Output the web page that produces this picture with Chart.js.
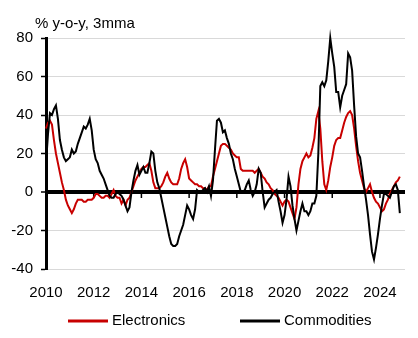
<!DOCTYPE html>
<html>
<head>
<meta charset="utf-8">
<script src="https://cdn.jsdelivr.net/npm/chart.js@4.4.1/dist/chart.umd.min.js"></script>
<style>
  html, body { margin: 0; padding: 0; background: #fff; }
  #wrap { width: 418px; height: 338px; }
</style>
</head>
<body>
<div id="wrap"><canvas id="chart" width="418" height="338"></canvas></div>
<script>
// Monthly series, Jan 2010 onwards (% y-o-y, 3-month moving average)
const startYear = 2010;
const unitLabel = '% y-o-y, 3mma';
const seriesNames = ['Electronics', 'Commodities'];

const electronics = [
  33, 36, 37, 35, 27, 20, 15, 10, 5, 1, -4, -7,          // 2010
  -9, -11, -9, -6, -4, -4, -4, -5, -5, -4, -4, -4,       // 2011
  -3, -1, -1, -2, -3, -3, -2, -2, -3, -1, 1, -2,         // 2012
  -3, -3, -6, -4, -7, -4, -3, 0, 3, 6, 8, 10,            // 2013
  12, 13, 13, 14, 15, 11, 5, 2, 2, 2, 3, 5,              // 2014
  8, 10, 7, 5, 4, 4, 4, 7, 12, 15, 17, 13,               // 2015
  7, 6, 5, 4, 4, 3, 3, 2, 2, 1, 3, 3,                    // 2016
  8, 12, 16, 20, 24, 25, 25, 24, 23, 22, 20, 19,         // 2017
  18, 18, 12, 11, 11, 11, 11, 11, 11, 10, 11, 12,        // 2018
  10, 8, 7, 5, 4, 2, 1, -1, -2, -3, -5, -7,              // 2019
  -5, -4, -5, -8, -11, -14, -8, 4, 12, 16, 18, 20,       // 2020
  18, 19, 23, 28, 38, 42, 33, 16, 4, 1, 6, 13,           // 2021
  18, 24, 27, 28, 28, 32, 36, 39, 41, 42, 40, 33,        // 2022
  24, 16, 10, 6, 2, 0, 2, 4, 0, -3, -5, -6,              // 2023
  -8, -10, -9, -6, -4, -1, 1, 3, 5, 6, 8                 // 2024
];

const commodities = [
  15, 30, 41, 40, 43, 45, 38, 27, 22, 18, 16, 17,        // 2010
  18, 22, 20, 21, 25, 28, 31, 34, 33, 35, 38, 32,        // 2011
  22, 17, 15, 11, 9, 7, 4, 1, -2, -3, -3, -1,            // 2012
  0, -1, -2, -4, -7, -10, -8, 0, 6, 11, 14, 9,           // 2013
  11, 13, 10, 10, 15, 21, 20, 11, 5, 2, -3, -8,          // 2014
  -13, -18, -23, -27, -28, -28, -27, -23, -20, -17, -12, -7, // 2015
  -9, -12, -14, -9, 1, 0, 0, 1, 2, 0, 3, -2,             // 2016
  6, 22, 37, 38, 36, 31, 32, 28, 25, 20, 17, 12,         // 2017
  8, 4, 0, 0, 1, 4, 6, 1, -2, 0, 4, 12,                  // 2018
  10, 0, -8, -6, -4, -3, -1, 0, 1, -5, -10, -16,         // 2019
  -12, -4, 8, 3, -7, -14, -20, -15, -10, -6, -10, -10,   // 2020
  -12, -10, -6, -6, -2, 20, 55, 57, 55, 58, 68, 80,      // 2021
  72, 65, 52, 52, 44, 50, 53, 56, 72, 70, 63, 45,        // 2022
  29, 20, 18, 11, 3, -4, -12, -22, -31, -35, -29, -22,   // 2023
  -14, -7, -1, -1, -2, -3, 0, 3, 4, 1, -11               // 2024
];

const yearTicks = [2010, 2012, 2014, 2016, 2018, 2020, 2022, 2024];
const valueTicks = [-40, -20, 0, 20, 40, 60, 80];

const FONT = "'Liberation Sans Narrow', 'Arial Narrow', 'Liberation Sans', Arial, sans-serif";
const RED = '#c80000';
const BLACK = '#000000';

const toPoints = arr => arr.map((v, i) => ({ x: startYear + i / 12, y: v }));

// small tick marks hanging below the zero line
const zeroTicks = {
  id: 'zeroTicks',
  beforeDatasetsDraw(chart) {
    const { ctx, scales: { x, y } } = chart;
    const y0 = y.getPixelForValue(0);
    ctx.save();
    ctx.strokeStyle = '#000';
    ctx.lineWidth = 1.5;
    x.ticks.forEach(t => {
      const px = x.getPixelForValue(t.value);
      ctx.beginPath();
      ctx.moveTo(px, y0);
      ctx.lineTo(px, y0 + 6);
      ctx.stroke();
    });
    ctx.restore();
  }
};

// unit caption above the y axis
const caption = {
  id: 'caption',
  afterDraw(chart) {
    const { ctx } = chart;
    ctx.save();
    ctx.font = '15px ' + FONT;
    ctx.fillStyle = '#000';
    ctx.textBaseline = 'middle';
    ctx.textAlign = 'left';
    ctx.fillText(unitLabel, 35, 24);
    ctx.restore();
  }
};

// line-sample legend along the bottom
const legendSlots = [68, 240];
const lineLegend = {
  id: 'lineLegend',
  afterDraw(chart) {
    const { ctx } = chart;
    ctx.save();
    ctx.font = '15px ' + FONT;
    ctx.textBaseline = 'middle';
    ctx.textAlign = 'left';
    const y = 321;
    chart.data.datasets.forEach((ds, i) => {
      const x = legendSlots[i];
      ctx.strokeStyle = ds.borderColor;
      ctx.lineWidth = 3;
      ctx.beginPath();
      ctx.moveTo(x, y);
      ctx.lineTo(x + 40, y);
      ctx.stroke();
      ctx.fillStyle = '#000';
      ctx.fillText(ds.label, x + 44, y);
    });
    ctx.restore();
  }
};

new Chart(document.getElementById('chart'), {
  type: 'line',
  data: {
    datasets: [
      { label: seriesNames[0], data: toPoints(electronics), borderColor: RED, backgroundColor: RED, borderWidth: 2, order: 1, clip: false },
      { label: seriesNames[1], data: toPoints(commodities), borderColor: BLACK, backgroundColor: BLACK, borderWidth: 2, order: 0, clip: false }
    ]
  },
  options: {
    responsive: false,
    animation: false,
    layout: { padding: { top: 38, right: 13, left: 0, bottom: 0 } },
    plugins: { legend: { display: false }, tooltip: { enabled: false }, title: { display: false } },
    elements: { point: { radius: 0 }, line: { tension: 0 } },
    scales: {
      x: {
        type: 'linear',
        min: 2010,
        max: 2025.05,
        afterBuildTicks: s => { s.ticks = yearTicks.map(v => ({ value: v })); },
        afterFit: s => { s.height = 69; },
        grid: { display: false, drawTicks: false },
        border: { display: false },
        ticks: {
          padding: 15, maxRotation: 0, autoSkip: false,
          color: '#000', font: { family: FONT, size: 15 },
          callback: v => String(v)
        }
      },
      y: {
        min: -40,
        max: 80,
        afterBuildTicks: s => { s.ticks = valueTicks.map(v => ({ value: v })); },
        afterFit: s => { s.width = 46; },
        border: { display: true, color: '#000', width: 3 },
        grid: {
          color: c => (c.tick && c.tick.value === 0) ? '#000' : '#d9d9d9',
          lineWidth: c => (c.tick && c.tick.value === 0) ? 4 : 1,
          tickColor: '#000',
          tickLength: 5,
          tickWidth: 1.5
        },
        ticks: { padding: 8, color: '#000', font: { family: FONT, size: 15 } }
      }
    }
  },
  plugins: [zeroTicks, caption, lineLegend]
});
</script>
</body>
</html>
